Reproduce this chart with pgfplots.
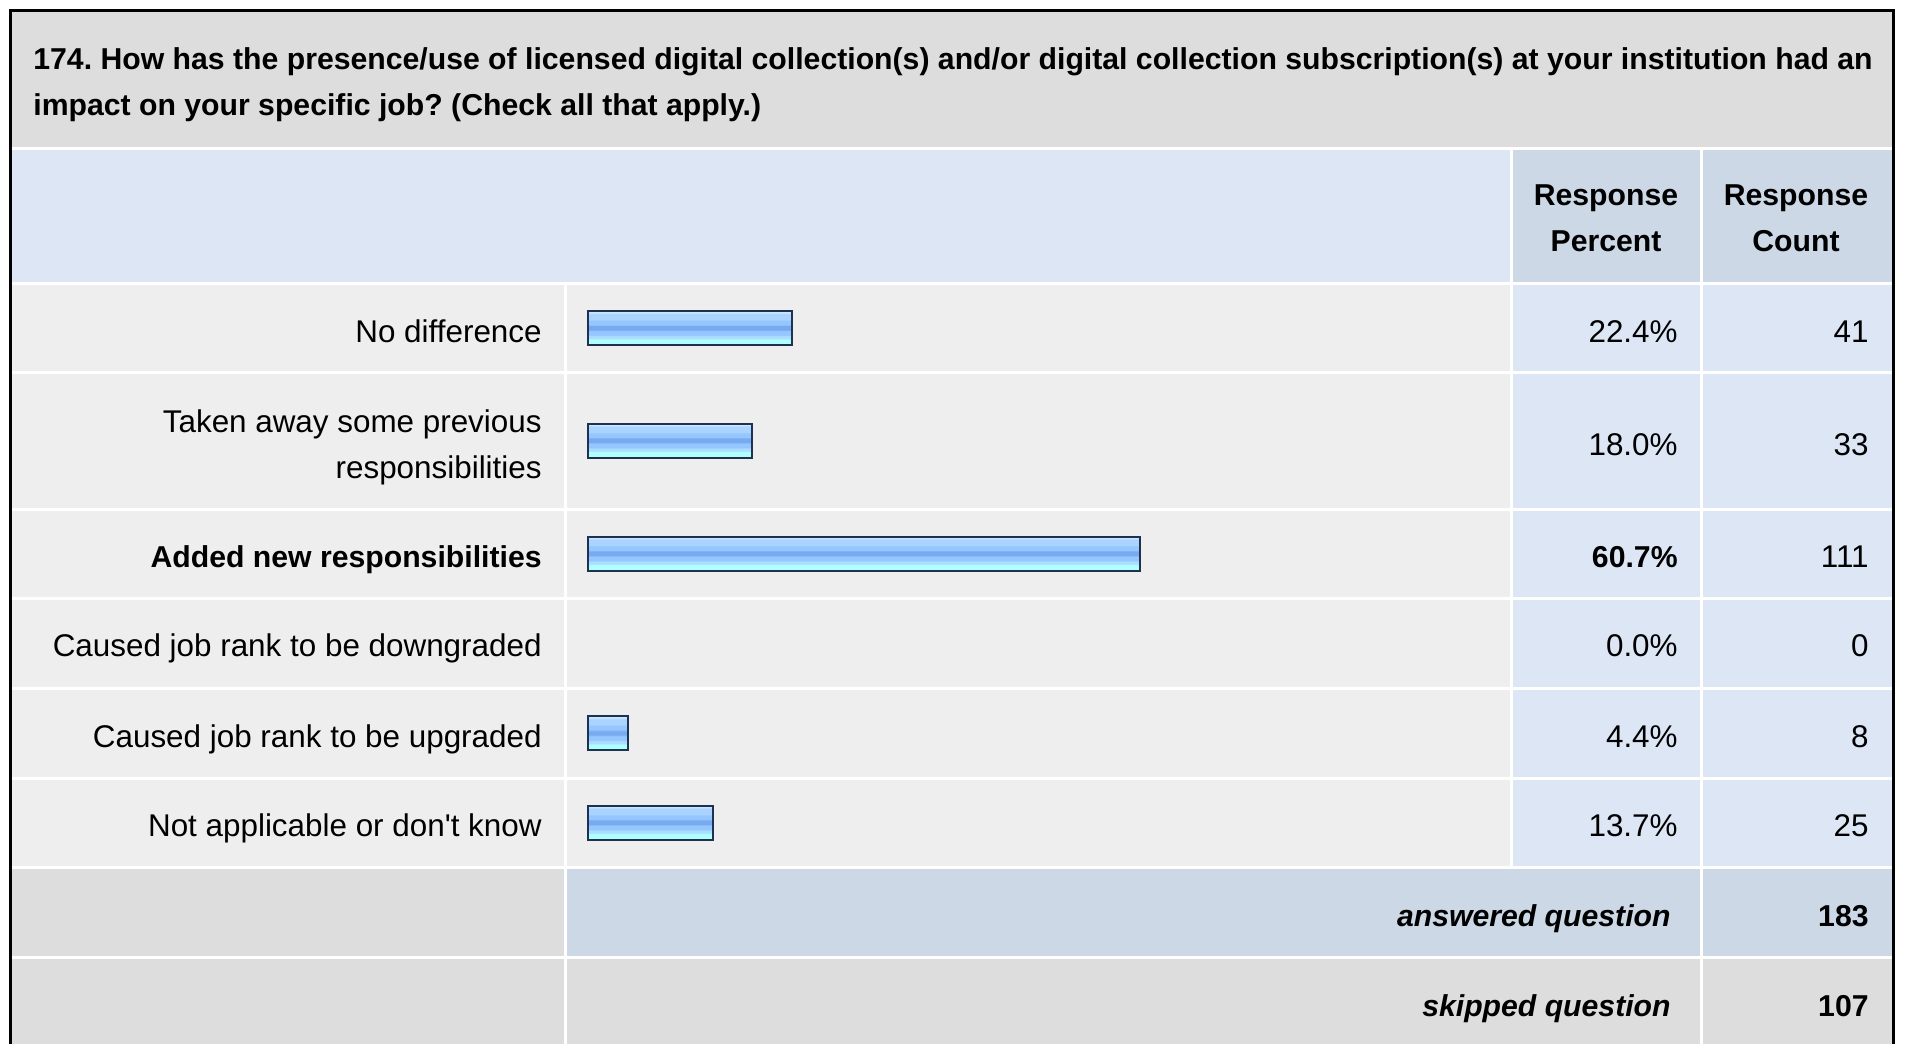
\documentclass[border=0pt]{standalone}
\usepackage{pgfplots}
\usepackage{pgfplotstable}
\pgfplotsset{compat=1.18}
\usepackage{fontspec}
\setmainfont{Liberation Sans}[Ligatures=TeXOff]
\frenchspacing

\definecolor{titlegray}{RGB}{221,221,221}
\definecolor{hdrblue}{RGB}{220,230,244}
\definecolor{hdrdark}{RGB}{204,216,230}
\definecolor{rowgray}{RGB}{238,238,238}
\definecolor{barT}{RGB}{200,230,255}
\definecolor{barB}{RGB}{170,212,255}
\definecolor{barM}{RGB}{150,198,255}
\definecolor{barD}{RGB}{120,170,240}
\definecolor{barL}{RGB}{170,222,255}
\definecolor{barC}{RGB}{175,255,255}
\definecolor{barEdge}{RGB}{30,50,80}

\pgfdeclareverticalshading{barshade}{100bp}{color(0bp)=(barC); color(25bp)=(barC); color(33bp)=(barC); color(35bp)=(barL); color(38bp)=(barL); color(40bp)=(barM); color(45.5bp)=(barM); color(47.5bp)=(barD); color(53bp)=(barD); color(55bp)=(barM); color(60.5bp)=(barM); color(62.5bp)=(barB); color(70.5bp)=(barB); color(72.5bp)=(barT); color(75bp)=(barT); color(100bp)=(barT)}

% ypos: centre of each row (layout, pixels from top); pct: response percent; count: response count
\pgfplotstableread{
row ypos pct count
1 328.0 22.4 41
2 440.5 18.0 33
3 553.5 60.7 111
4 643.0 0.0 0
5 733.0 4.4 8
6 822.5 13.7 25
}\datatable

\newcommand{\cell}[5]{\fill[#5] ({#1+1.5},{#2+1.5}) rectangle ({#3-1.5},{#4-1.5});}
\newcommand{\rf}{\fontsize{15.7pt}{18pt}\selectfont}
\newcommand{\bfnt}{\fontsize{15.1pt}{18pt}\selectfont\bfseries}

\begin{document}
\begin{tikzpicture}
\begin{scope}[x=0.5pt,y=-0.5pt]
\useasboundingbox (0,0) rectangle (1913,1044);
\fill[white] (10,10) rectangle (1893,1044);
% title
\fill[titlegray] (11.5,11.5) rectangle (1891.5,146.5);
% header
\cell{10}{148}{1511}{283}{hdrblue}
\cell{1511}{148}{1701}{283}{hdrdark}
\cell{1701}{148}{1893}{283}{hdrdark}
% body rows
\foreach \ya/\yb in {283/372,372/509,509/598,598/688,688/778,778/867}{
  \cell{10}{\ya}{565}{\yb}{rowgray}
  \cell{565}{\ya}{1511}{\yb}{rowgray}
  \cell{1511}{\ya}{1701}{\yb}{hdrblue}
  \cell{1701}{\ya}{1893}{\yb}{hdrblue}
}
% answered
\cell{10}{867}{565}{957}{titlegray}
\cell{565}{867}{1701}{957}{hdrdark}
\cell{1701}{867}{1893}{957}{hdrdark}
% skipped
\cell{10}{957}{565}{1050}{titlegray}
\cell{565}{957}{1701}{1050}{titlegray}
\cell{1701}{957}{1893}{1050}{titlegray}
% outer border
\draw[black, line width=1.5pt] (10,1044) -- (10,10) -- (1893,10) -- (1893,1044);
\end{scope}

\begin{axis}[
  at={(294pt,-433.5pt)}, anchor=south west,
  scale only axis, width=455pt, height=292pt,
  xmin=0, xmax=100, ymin=283, ymax=867, y dir=reverse,
  hide axis, clip=false,
  xbar, bar width=17pt, bar shift=0pt,
]
\pgfplotsset{barsty/.style={draw=barEdge, line width=1pt, shade, shading=barshade,
    restrict x to domain=0.01:200}}
\addplot[barsty, restrict expr to domain={\coordindex}{0:0}] table[x=pct, y=ypos] {\datatable};
\addplot[barsty, restrict expr to domain={\coordindex}{1:1}] table[x=pct, y=ypos] {\datatable};
\addplot[barsty, restrict expr to domain={\coordindex}{2:2}] table[x=pct, y=ypos] {\datatable};
\addplot[barsty, restrict expr to domain={\coordindex}{3:3}] table[x=pct, y=ypos] {\datatable};
\addplot[barsty, restrict expr to domain={\coordindex}{4:4}] table[x=pct, y=ypos] {\datatable};
\addplot[barsty, restrict expr to domain={\coordindex}{5:5}] table[x=pct, y=ypos] {\datatable};
\end{axis}

\begin{scope}[x=0.5pt,y=-0.5pt, every node/.style={inner sep=0pt, font=\rf}]
\node[anchor=base west, font=\bfnt] at (33,69) {174. How has the presence/use of licensed digital collection(s) and/or digital collection subscription(s) at your institution had an};
\node[anchor=base west, font=\bfnt] at (33,115) {impact on your specific job? (Check all that apply.)};
\node[anchor=base, font=\bfnt] at (1606,205) {Response};
\node[anchor=base, font=\bfnt] at (1606,251) {Percent};
\node[anchor=base, font=\bfnt] at (1796,205) {Response};
\node[anchor=base, font=\bfnt] at (1796,251) {Count};
% labels
\node[anchor=base east] at (542,342) {No difference};
\node[anchor=base east] at (542,432) {Taken away some previous};
\node[anchor=base east] at (542,478) {responsibilities};
\node[anchor=base east, font=\bfnt] at (542,567) {Added new responsibilities};
\node[anchor=base east] at (542,656) {Caused job rank to be downgraded};
\node[anchor=base east] at (542,747) {Caused job rank to be upgraded};
\node[anchor=base east] at (542,836) {Not applicable or don't know};
% percents
\node[anchor=base east] at (1678,342) {22.4\%};
\node[anchor=base east] at (1678,455) {18.0\%};
\node[anchor=base east, font=\bfnt] at (1678,567) {60.7\%};
\node[anchor=base east] at (1678,656) {0.0\%};
\node[anchor=base east] at (1678,747) {4.4\%};
\node[anchor=base east] at (1678,836) {13.7\%};
% counts
\node[anchor=base east] at (1869,342) {41};
\node[anchor=base east] at (1869,455) {33};
\node[anchor=base east] at (1869,567) {111};
\node[anchor=base east] at (1869,656) {0};
\node[anchor=base east] at (1869,747) {8};
\node[anchor=base east] at (1869,836) {25};
% totals
\node[anchor=base east, font=\bfnt\itshape] at (1671,926) {answered question};
\node[anchor=base east, font=\bfnt] at (1869,926) {183};
\node[anchor=base east, font=\bfnt\itshape] at (1671,1016) {skipped question};
\node[anchor=base east, font=\bfnt] at (1869,1016) {107};
\end{scope}
\end{tikzpicture}
\end{document}
